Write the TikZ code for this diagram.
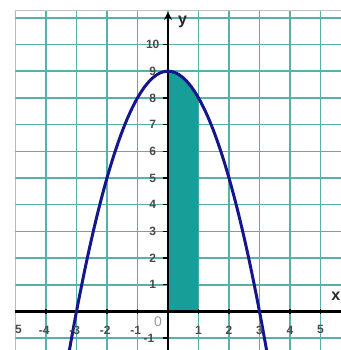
\documentclass[tikz,border=0pt]{standalone}
\usepackage{fontspec}
\setsansfont{Liberation Sans}
\usetikzlibrary{arrows.meta}
\definecolor{gridteal}{RGB}{88,176,170}
\definecolor{fillteal}{RGB}{22,158,152}
\definecolor{curvenavy}{RGB}{22,22,140}
\definecolor{labgray}{RGB}{75,75,75}
\tikzset{
  gridline/.style={draw=gridteal, line width=1.5pt},
  axisline/.style={draw=black, line width=2pt},
  ticklab/.style={font=\sffamily\bfseries\fontsize{12}{13}\selectfont, text=labgray, inner sep=0pt},
  axlab/.style={font=\sffamily\bfseries\fontsize{16}{17}\selectfont, text=black!85, inner sep=0pt},
  curveline/.style={draw=curvenavy, line width=3pt},
}
\begin{document}
\begin{tikzpicture}[x=30.5pt, y=26.7pt]
\useasboundingbox (-5.508,-1.442) rectangle (5.672,11.667);
\fill[white] (-5.508,-1.442) rectangle (5.672,11.667);
% grid
\begin{scope}
\clip (-5,-1.442) rectangle (5.672,11.292);
\foreach \i in {-5,...,5} \draw[gridline] (\i,-1.6) -- (\i,11.4);
\foreach \j in {-1,...,11} \draw[gridline] (-5.1,\j) -- (5.8,\j);
\end{scope}
\draw[draw=black!25, line width=0.8pt] (-5,11.292) -- (5.672,11.292);
% shaded region
\fill[fillteal] (0,0) -- plot[domain=0:1, samples=30] (\x,{9-\x*\x}) -- (1,0) -- cycle;
% axes
\coordinate (xl) at (-5,0);
\coordinate (xr) at (5.672,0);
\coordinate (yb) at (0,-1.442);
\coordinate (yt) at (0,11.22);
\draw[axisline, line width=2.4pt] (xl) -- (xr);
\draw[axisline, -{Stealth[length=8pt,width=8pt]}] (yb) -- (yt);
\foreach \k in {-1,...,10} \draw[black, line width=1.4pt] (0,\k) -- (-0.17,\k);
\foreach \i in {-4,...,5} \draw[black, line width=1.4pt] (\i,-0.09) -- (\i,0.09);
% curve
\draw[curveline] plot[domain=-3.24:3.24, samples=120, smooth] (\x,{9-\x*\x});
% labels
\foreach \k in {1,...,10} \node[ticklab] (yl\k) at (-0.5,\k) {\k};
\node[ticklab] (ylm1) at (-0.62,-1) {-1};
\foreach \i in {-4,...,-1} \node[ticklab] (xlm\i) at (\i-0.06,-0.69) {\i};
\foreach \i in {1,...,5} \node[ticklab] (xlp\i) at (\i,-0.69) {\i};
\node[ticklab] (xlm5) at (-4.9,-0.69) {5};
\node[ticklab, text=black!40, font=\sffamily\fontsize{14}{15}\selectfont] (zero) at (-0.33,-0.39) {0};
\node[axlab] (ylab) at (0.48,10.85) {y};
\node[axlab] (xlab) at (5.5,0.58) {x};
\end{tikzpicture}
\end{document}
